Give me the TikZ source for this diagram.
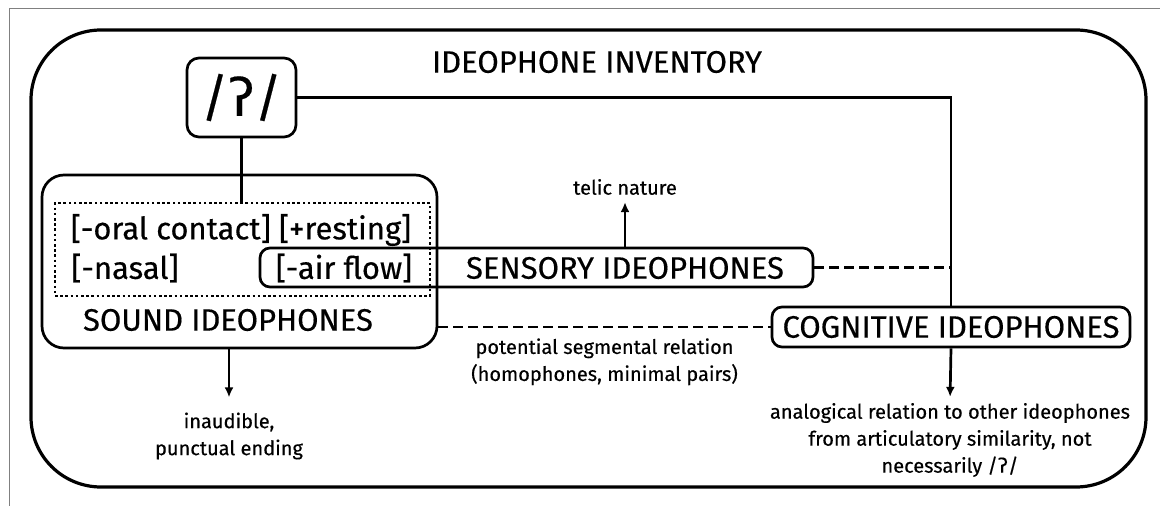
\documentclass[tikz,border=0pt]{standalone}
\usepackage{fontspec}
\setmainfont{Fira Sans}[FakeBold=0.4]
\newfontfamily\ipafont{DejaVu Sans}[FakeBold=0.4]
\newcommand{\gstop}{{\ipafont ʔ}}
\usetikzlibrary{arrows.meta}

\begin{document}
\begin{tikzpicture}[x=1pt,y=-1pt,>={Latex[length=10pt,width=9pt]},
  box/.style={draw,line width=2.7pt,rounded corners=10pt,inner sep=0pt},
  big/.style={font=\fontsize{31}{36}\selectfont},
  feature/.style={font=\fontsize{31}{36}\selectfont,inner sep=0pt},
  small/.style={font=\fontsize{20}{27}\selectfont,align=center,inner sep=0pt},
  link/.style={line width=2.7pt},
  relation/.style={line width=2.7pt,dash pattern=on 10pt off 5pt}]
\useasboundingbox (0,0) rectangle (1160,506);
\draw[gray,line width=1pt] (9,506) -- (9,8) -- (1160,8);

% inventory frame
\path (588.5,258.5) node[box,line width=3.2pt,rounded corners=70pt,minimum width=1115pt,minimum height=457pt] (inv) {};
\path (597,62) node[big,inner sep=0pt] (title) {IDEOPHONE INVENTORY};

\path (241.5,97.5) node[box,rounded corners=12pt,minimum width=109pt,minimum height=79pt,font=\fontsize{52}{52}\selectfont] (gs) {/\gstop/};

% sound ideophones
\path (239.5,261.5) node[box,rounded corners=22pt,minimum width=395pt,minimum height=173pt] (snd) {};
\path (228,320) node[big,inner sep=0pt] (sndname) {SOUND IDEOPHONES};
\path (242.5,249.5) node[draw,line width=2.6pt,dash pattern=on 2.6pt off 2.6pt,minimum width=375pt,minimum height=93pt] (feat) {};
\path (241,230) node[feature] (oral) {[-oral contact] [+resting]};
\path (125,268) node[feature] (nasal) {[-nasal]};
\path (344,268) node[feature] (air) {[-air flow]};

% sensory ideophones
\path (536.5,267.5) node[box,minimum width=553pt,minimum height=39pt] (sens) {};
\path (625,268) node[big,inner sep=0pt] (sensname) {SENSORY IDEOPHONES};
\path (625,187) node[small] (telic) {telic nature};
\draw[link,->,shorten >=7pt] (sens.north -| telic.south) -- (telic.south);

% cognitive ideophones
\path (951,327) node[box,big,minimum width=358pt,minimum height=40pt] (cog) {COGNITIVE IDEOPHONES};

\path (229,436) node[small] (inaud) {inaudible,\\punctual ending};
\draw[link,->,shorten >=15pt] (snd.south -| inaud.north) -- (inaud.north);

\path (950,440) node[small] (anal) {analogical relation to other ideophones\\from articulatory similarity, not\\necessarily /\gstop/};
\draw[link,->,shorten >=6pt] (cog.south) -- (anal.north);

\draw[link] (gs.south) -- (gs.south |- feat.north);
\draw[link] (gs.east) -- (gs.east -| cog.north) -- (cog.north);
\draw[relation] (sens.east) -- (sens.east -| cog.north);
\draw[relation] (snd.east |- cog.west) -- node[small,below=10pt] (pot) {potential segmental relation\\(homophones, minimal pairs)} (cog.west);
\end{tikzpicture}
\end{document}
